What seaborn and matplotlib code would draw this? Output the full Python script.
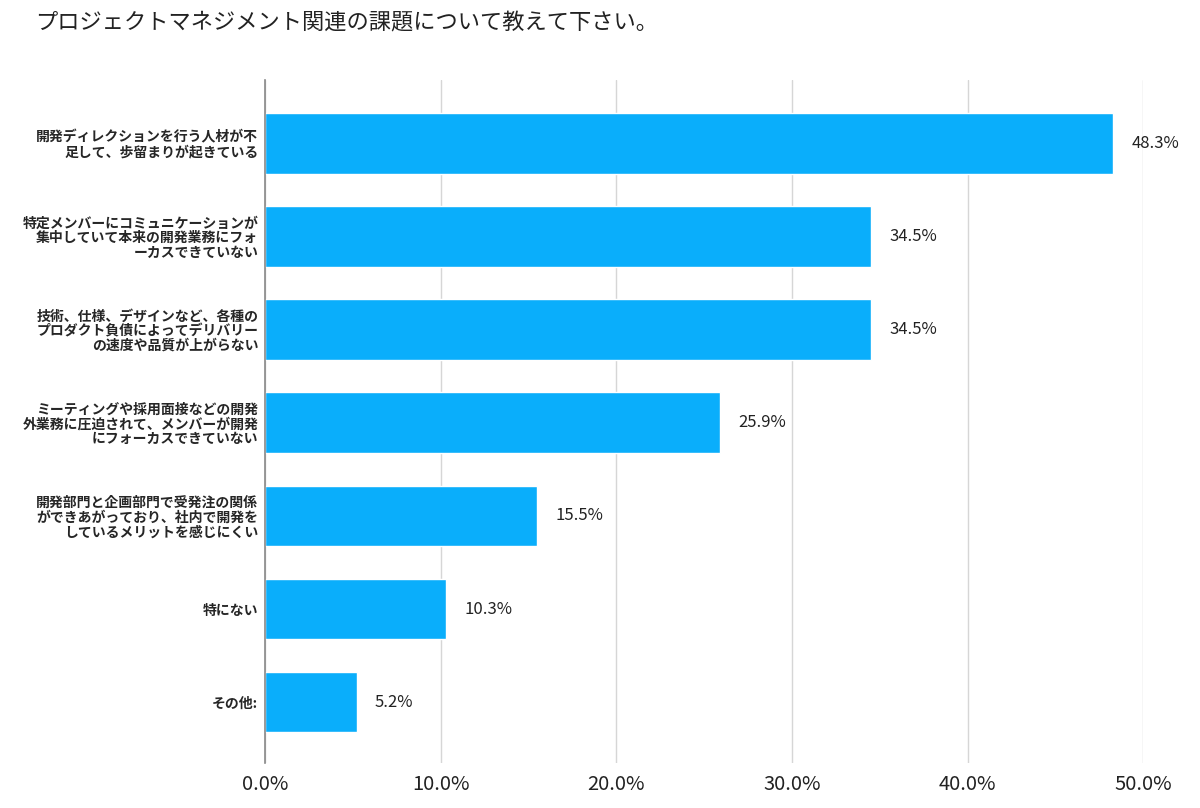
import matplotlib
matplotlib.use("Agg")
import matplotlib.pyplot as plt
import seaborn as sns
import pandas as pd

# data
categories = [
    "開発ディレクションを行う人材が不\n足して、歩留まりが起きている",
    "特定メンバーにコミュニケーションが\n集中していて本来の開発業務にフォ\nーカスできていない",
    "技術、仕様、デザインなど、各種の\nプロダクト負債によってデリバリー\nの速度や品質が上がらない",
    "ミーティングや採用面接などの開発\n外業務に圧迫されて、メンバーが開発\nにフォーカスできていない",
    "開発部門と企画部門で受発注の関係\nができあがっており、社内で開発を\nしているメリットを感じにくい",
    "特にない",
    "その他:",
]
values = [48.3, 34.5, 34.5, 25.9, 15.5, 10.3, 5.2]
xticks = [0, 10, 20, 30, 40, 50]
title = "プロジェクトマネジメント関連の課題について教えて下さい。"

sns.set_style("white")
plt.rcParams['font.family'] = ['Noto Sans CJK JP', 'DejaVu Sans']

df = pd.DataFrame({"cat": categories, "val": values})

fig = plt.figure(figsize=(12, 8.08), dpi=100)
ax = fig.add_axes([0.221, 0.056, 0.7317, 0.845])

sns.barplot(data=df, x="val", y="cat", orient="h", color="#0AAEFB",
            saturation=1, width=0.65, ax=ax, zorder=3)

ax.set_xlim(0, 50)
ax.set_ylim(6.65, -0.68)
ax.set_xticks(xticks)
ax.set_xticklabels([f"{t:.1f}%" for t in xticks], fontsize=14.5, color="#222222")
ax.tick_params(axis="x", length=0, pad=8)
ax.tick_params(axis="y", length=0, pad=5)
for lbl in ax.get_yticklabels():
    lbl.set_fontweight("bold")
    lbl.set_fontsize(10)
    lbl.set_linespacing(1.05)
    lbl.set_horizontalalignment("right")
    lbl.set_multialignment("right")
ax.set_xlabel("")
ax.set_ylabel("")

ax.grid(axis="x", color="#d6d6d6", linewidth=1, zorder=0)
for side in ["top", "right", "bottom"]:
    ax.spines[side].set_visible(False)
ax.spines["left"].set_color("#888888")
ax.spines["left"].set_linewidth(1.2)
ax.spines["left"].set_zorder(4)

for i, v in enumerate(values):
    ax.annotate(f"{v}%", xy=(v, i), xytext=(13, 0), textcoords="offset points",
                va="center", ha="left", fontsize=12, color="#222222")

fig.text(0.029, 0.972, title, fontsize=16, va="center", ha="left", color="#222222")

fig.savefig("out.png", dpi=100)
